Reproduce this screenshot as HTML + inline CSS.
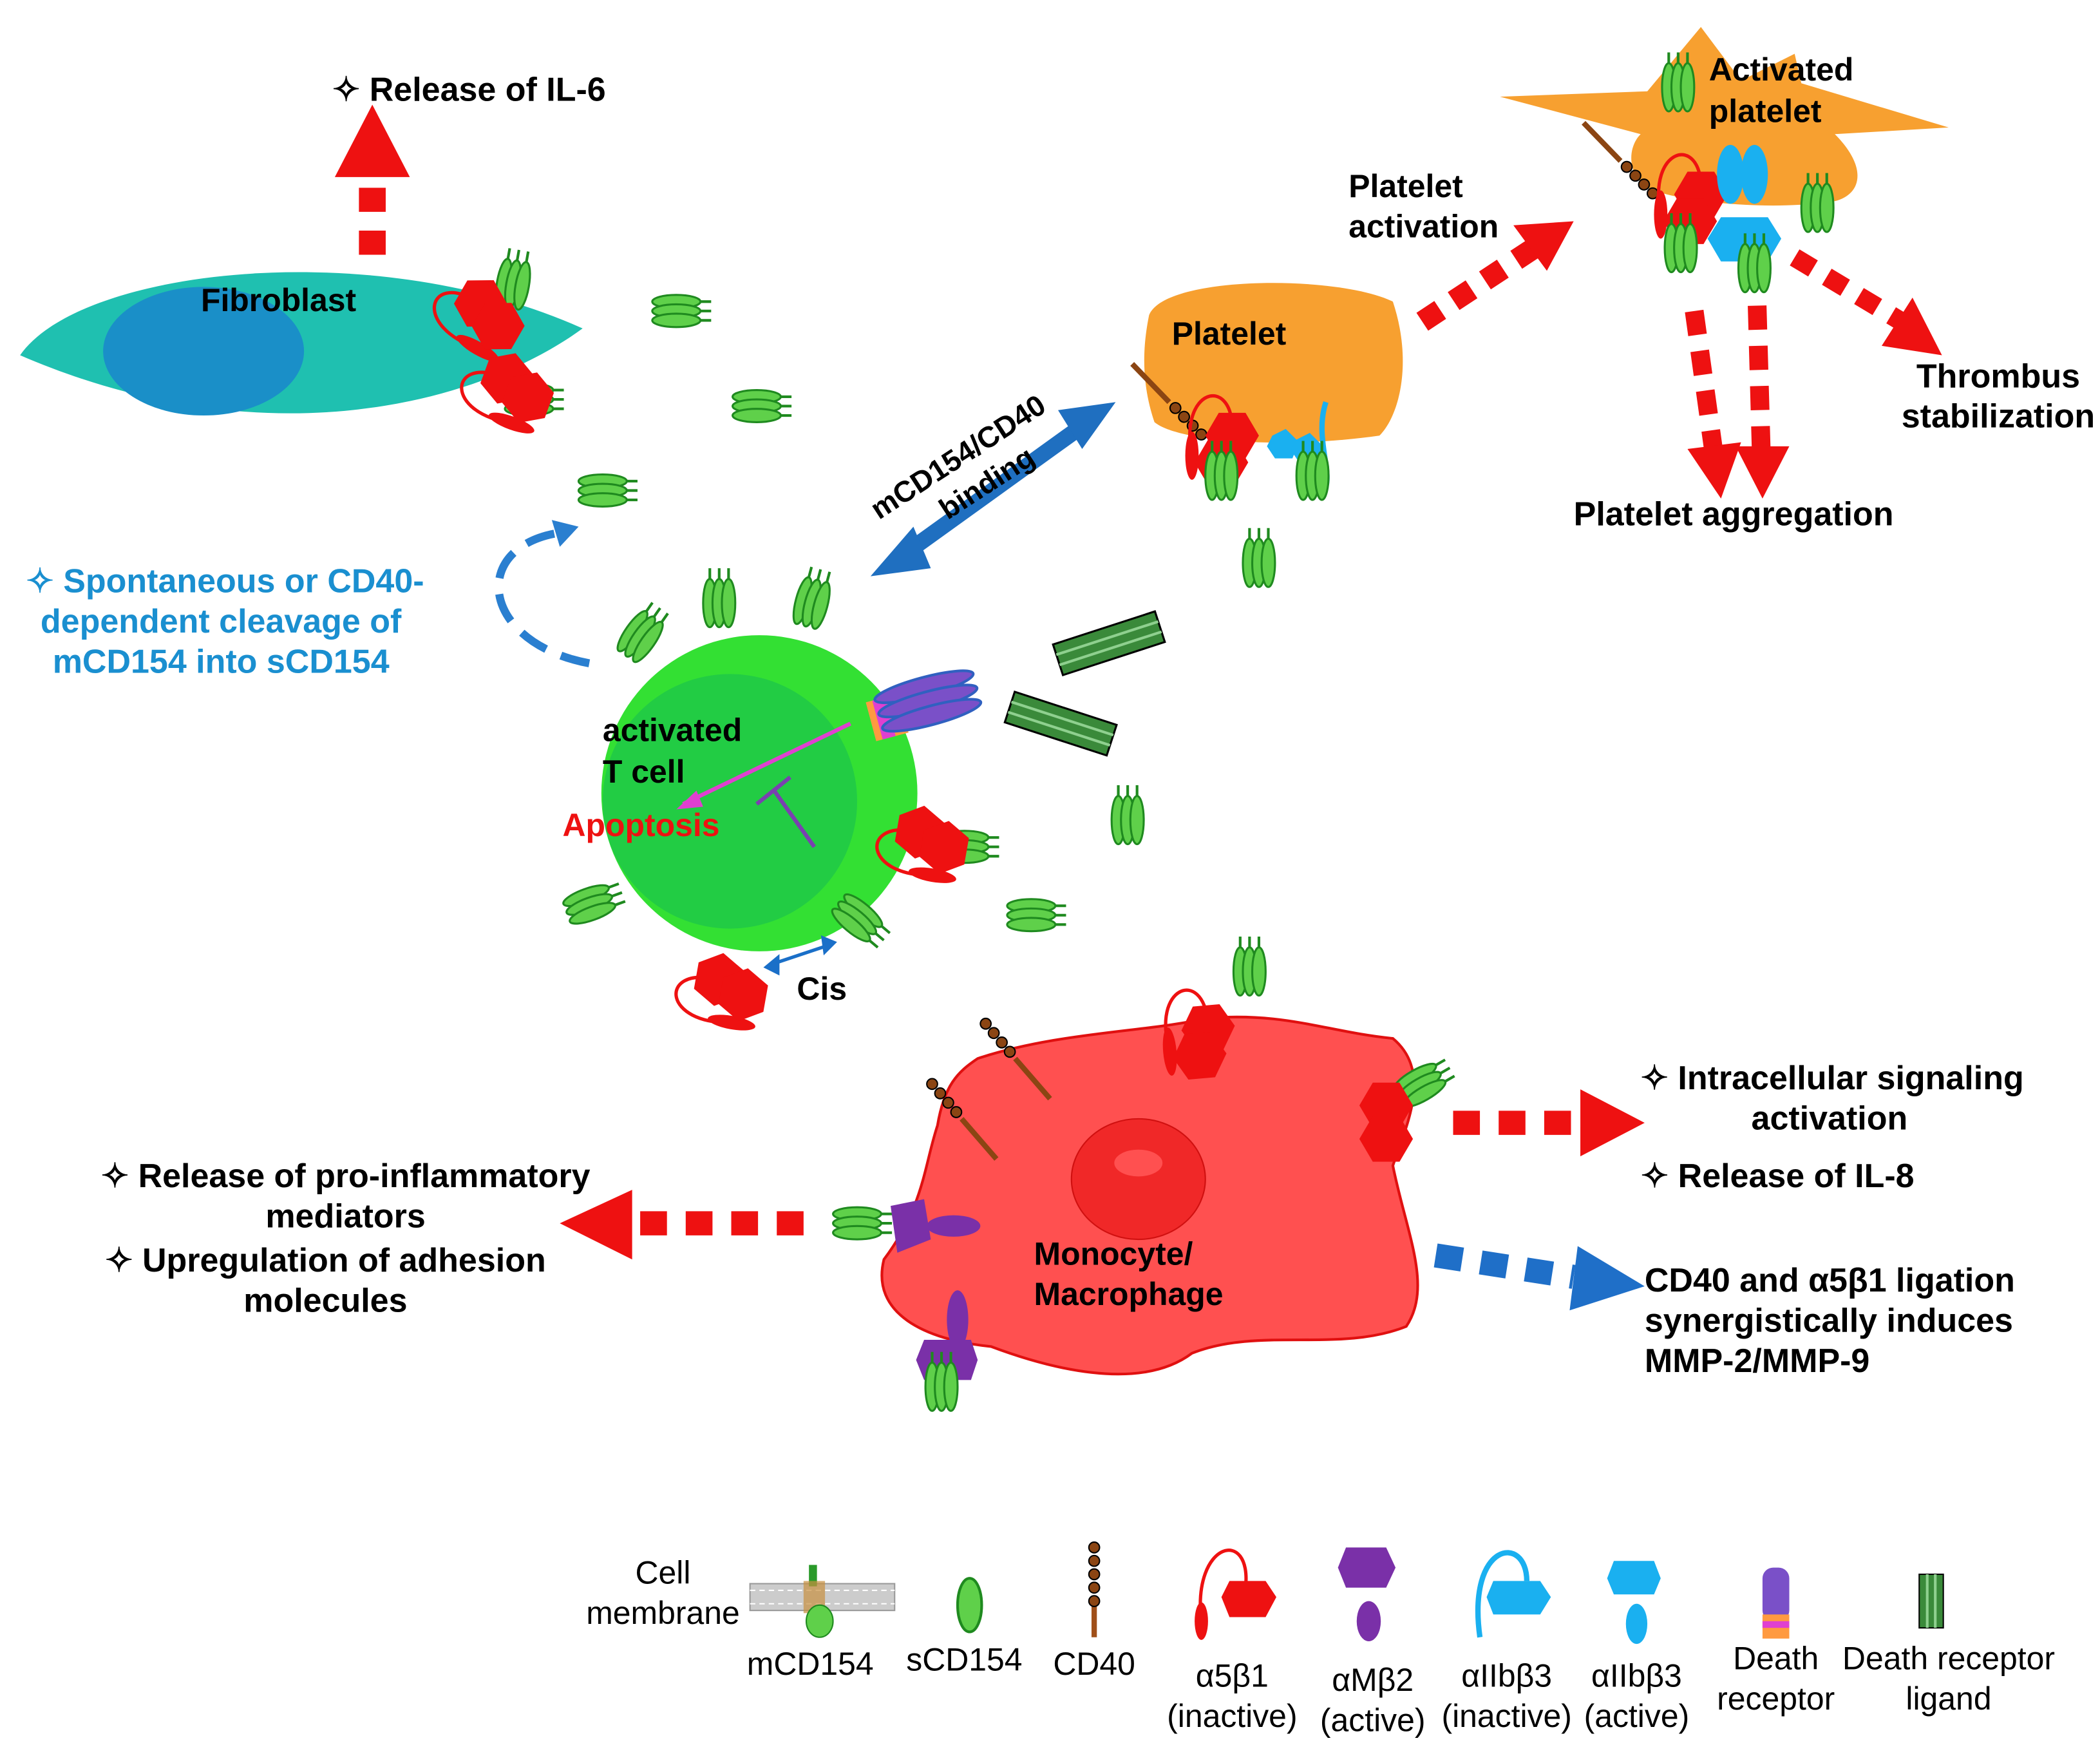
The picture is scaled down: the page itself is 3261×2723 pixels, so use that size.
<!DOCTYPE html>
<html><head><meta charset="utf-8"><style>html,body{margin:0;padding:0;background:#fff}svg{display:block}</style></head>
<body>
<svg xmlns="http://www.w3.org/2000/svg" width="3261" height="2723" viewBox="0 0 1568 1309" font-family="Liberation Sans, sans-serif">
<defs>
<g id="s">
<ellipse cx="0" cy="-7" rx="18" ry="5" fill="#5fd04a" stroke="#1f8a1f" stroke-width="1.5"/>
<ellipse cx="0" cy="0" rx="18" ry="5" fill="#5fd04a" stroke="#1f8a1f" stroke-width="1.5"/>
<ellipse cx="0" cy="7" rx="18" ry="5" fill="#5fd04a" stroke="#1f8a1f" stroke-width="1.5"/>
<path d="M18 -7h8M18 0h8M18 7h8" stroke="#1f8a1f" stroke-width="2"/>
</g>
<g id="hex"><polygon points="-10,-17 10,-17 20,0 10,17 -10,17 -20,0" fill="#ee1111"/></g>
<g id="int">
<path d="M0 40 C -10 -10, 30 -20, 30 20" fill="none" stroke="#ee1111" stroke-width="2.5"/>
<ellipse cx="0" cy="40" rx="5" ry="18" fill="#ee1111"/>
<use href="#hex" x="30" y="25"/><use href="#hex" x="22" y="45"/>
</g>
<g id="cd40">
<path d="M0 0 L26 30" stroke="#8b4513" stroke-width="4"/>
<circle cx="-4" cy="-5" r="4" fill="#8b4513" stroke="#000"/><circle cx="-10" cy="-12" r="4" fill="#8b4513" stroke="#000"/><circle cx="-16" cy="-19" r="4" fill="#8b4513" stroke="#000"/><circle cx="-22" cy="-26" r="4" fill="#8b4513" stroke="#000"/>
</g>
<g id="dl"><rect x="-40" y="-12" width="80" height="24" fill="#3a8a3a" stroke="#000" stroke-width="1.5"/><path d="M-40 -4h80M-40 4h80" stroke="#8fd08f" stroke-width="2"/></g>
</defs>

<!-- Fibroblast -->
<path d="M15 265 C 60 200, 280 175, 435 245 C 360 300, 200 345, 15 265Z" fill="#1fc0b0"/>
<ellipse cx="152" cy="262" rx="75" ry="48" fill="#1a8fc8"/>
<text x="150" y="232" font-size="24" font-weight="bold">Fibroblast</text>
<use href="#s" x="383" y="212" transform="rotate(-80 383 212)"/>
<use href="#int" x="325" y="215" transform="rotate(-60 345 230)"/>
<use href="#s" x="395" y="298"/>
<use href="#int" x="350" y="270" transform="rotate(-70 370 290)"/>

<!-- IL-6 arrow -->
<line x1="278" y1="190" x2="278" y2="135" stroke="#ee1111" stroke-width="20" stroke-dasharray="18 14"/>
<polygon points="250,132 306,132 278,78" fill="#ee1111"/>
<text x="248" y="75" font-size="25" font-weight="bold">✧ Release of IL-6</text>

<use href="#s" x="505" y="232"/><use href="#s" x="565" y="303"/><use href="#s" x="450" y="366"/>

<!-- Blue curved dashed arrow -->
<path d="M440 495 C 360 480, 350 410, 415 398" fill="none" stroke="#2a7fd0" stroke-width="6" stroke-dasharray="22 12"/>
<polygon points="432,393 412,388 418,408" fill="#2a7fd0"/>
<g font-size="25" font-weight="bold" fill="#1a8fd0" text-anchor="middle">
<text x="168" y="442">✧ Spontaneous or CD40-</text>
<text x="165" y="472">dependent cleavage of</text>
<text x="165" y="502">mCD154 into sCD154</text></g>

<!-- T cell -->
<circle cx="567" cy="592" r="118" fill="#33e033"/>
<circle cx="545" cy="598" r="95" fill="#22cc44"/>
<use href="#s" x="537" y="450" transform="rotate(-90 537 450)"/>
<use href="#s" x="606" y="450" transform="rotate(-75 606 450)"/>
<use href="#s" x="478" y="475" transform="rotate(-55 478 475)"/>
<use href="#s" x="440" y="675" transform="rotate(-20 440 675)"/>
<use href="#s" x="640" y="685" transform="rotate(40 640 685)"/>
<use href="#s" x="720" y="632"/>
<use href="#int" x="660" y="610" transform="rotate(-80 680 630)"/>
<use href="#int" x="510" y="720" transform="rotate(-80 530 740)"/>
<g transform="translate(640 500) rotate(-15)">
<rect x="0" y="25" width="25" height="30" fill="#ff9a40"/><rect x="5" y="25" width="10" height="30" fill="#e040d0"/>
<ellipse cx="45" cy="25" rx="38" ry="7" fill="#7a50c8" stroke="#3060c0" stroke-width="2"/>
<ellipse cx="45" cy="36" rx="38" ry="7" fill="#7a50c8" stroke="#3060c0" stroke-width="2"/>
<ellipse cx="45" cy="47" rx="38" ry="7" fill="#7a50c8" stroke="#3060c0" stroke-width="2"/></g>
<line x1="635" y1="540" x2="510" y2="600" stroke="#e040d0" stroke-width="3"/>
<polygon points="505,604 520,590 525,602" fill="#e040d0"/>
<path d="M565 600 L590 580 M578 590 L608 632" stroke="#7a40b0" stroke-width="3"/>
<text x="450" y="553" font-size="24" font-weight="bold">activated</text>
<text x="450" y="584" font-size="24" font-weight="bold">T cell</text>
<text x="420" y="624" font-size="24" font-weight="bold" fill="#ee1111">Apoptosis</text>
<path d="M575 720 L620 705" stroke="#1a6fc8" stroke-width="2.5"/>
<polygon points="570,722 582,712 582,728" fill="#1a6fc8"/><polygon points="625,703 613,698 615,713" fill="#1a6fc8"/>
<text x="595" y="746" font-size="24" font-weight="bold">Cis</text>

<use href="#dl" x="828" y="480" transform="rotate(-18 828 480)"/>
<use href="#dl" x="792" y="540" transform="rotate(18 792 540)"/>
<use href="#s" x="842" y="612" transform="rotate(-90 842 612)"/>
<use href="#s" x="770" y="683"/>
<use href="#s" x="940" y="420" transform="rotate(-90 940 420)"/>

<!-- Blue double arrow -->
<line x1="680" y1="410" x2="805" y2="320" stroke="#1f6fc0" stroke-width="12"/>
<polygon points="650,430 682,393 695,424" fill="#1f6fc0"/>
<polygon points="833,300 790,306 808,335" fill="#1f6fc0"/>
<g font-size="22" font-weight="bold" transform="rotate(-33 715 350)">
<text x="645" y="350">mCD154/CD40</text><text x="688" y="378">binding</text></g>

<!-- Platelet -->
<path d="M858 235 C 870 205, 1000 205, 1040 225 C 1055 270, 1045 310, 1030 325 C 960 335, 880 330, 862 315 C 850 280, 855 250, 858 235Z" fill="#f7a030"/>
<text x="875" y="257" font-size="24" font-weight="bold">Platelet</text>
<use href="#cd40" x="873" y="300" transform="rotate(95 873 300) scale(-1 1) translate(-1746 0)"/>
<use href="#int" x="890" y="300"/>
<use href="#s" x="912" y="355" transform="rotate(-90 912 355)"/>
<g><path d="M990 300 C 980 330, 1000 360, 985 370" stroke="#1ab0f0" stroke-width="4" fill="none"/>
<polygon points="950,325 960,320 970,330 965,342 952,342 946,333" fill="#1ab0f0"/>
<polygon points="968,328 978,323 988,333 983,345 970,345 964,336" fill="#1ab0f0"/></g>
<use href="#s" x="980" y="355" transform="rotate(-90 980 355)"/>

<!-- Platelet activation arrow -->
<line x1="1062" y1="240" x2="1150" y2="182" stroke="#ee1111" stroke-width="16" stroke-dasharray="16 12"/>
<polygon points="1175,165 1130,168 1155,202" fill="#ee1111"/>
<text x="1007" y="147" font-size="24" font-weight="bold">Platelet</text>
<text x="1007" y="177" font-size="24" font-weight="bold">activation</text>

<!-- Activated platelet -->
<path d="M1120 72 L1230 68 L1270 20 L1300 60 L1340 40 L1345 62 L1455 95 L1370 100 C 1395 125, 1390 145, 1370 150 C 1320 158, 1250 150, 1230 140 C 1215 130, 1215 110, 1225 100 Z" fill="#f7a030"/>
<text x="1276" y="60" font-size="24" font-weight="bold">Activated</text>
<text x="1276" y="91" font-size="24" font-weight="bold">platelet</text>
<use href="#s" x="1253" y="65" transform="rotate(-90 1253 65)"/>
<use href="#cd40" x="1210" y="120" transform="rotate(95 1210 120) scale(-1 1) translate(-2420 0)"/>
<use href="#int" x="1240" y="120"/>
<use href="#s" x="1255" y="185" transform="rotate(-90 1255 185)"/>
<use href="#s" x="1357" y="155" transform="rotate(-90 1357 155)"/>
<ellipse cx="1292" cy="130" rx="10" ry="22" fill="#1ab0f0"/><ellipse cx="1310" cy="130" rx="10" ry="22" fill="#1ab0f0"/>
<polygon points="1285,162 1320,162 1330,178 1320,195 1285,195 1275,178" fill="#1ab0f0"/>
<use href="#s" x="1310" y="200" transform="rotate(-90 1310 200)"/>
<line x1="1265" y1="232" x2="1280" y2="340" stroke="#ee1111" stroke-width="14" stroke-dasharray="18 12"/>
<polygon points="1260,335 1300,330 1285,372" fill="#ee1111"/>
<line x1="1312" y1="228" x2="1315" y2="335" stroke="#ee1111" stroke-width="14" stroke-dasharray="18 12"/>
<polygon points="1296,333 1336,333 1316,372" fill="#ee1111"/>
<text x="1175" y="392" font-size="25" font-weight="bold">Platelet aggregation</text>
<line x1="1340" y1="192" x2="1420" y2="240" stroke="#ee1111" stroke-width="14" stroke-dasharray="16 12"/>
<polygon points="1450,265 1405,258 1428,222" fill="#ee1111"/>
<text x="1492" y="289" font-size="25" font-weight="bold" text-anchor="middle">Thrombus</text>
<text x="1492" y="319" font-size="25" font-weight="bold" text-anchor="middle">stabilization</text>

<!-- Macrophage -->
<path d="M730 790 C 790 770, 860 770, 900 760 C 960 755, 990 770, 1040 775 C 1070 800, 1050 840, 1040 870 C 1050 920, 1070 960, 1050 990 C 1000 1010, 940 990, 890 1010 C 850 1040, 780 1020, 740 1005 C 690 1000, 650 980, 660 940 C 690 900, 690 870, 700 840 C 705 810, 715 800, 730 790Z" fill="#ff5050" stroke="#e01010" stroke-width="2"/>
<ellipse cx="850" cy="880" rx="50" ry="45" fill="#f02828" stroke="#d01010"/>
<ellipse cx="850" cy="868" rx="18" ry="10" fill="#ff5050"/>
<text x="772" y="944" font-size="24" font-weight="bold">Monocyte/</text>
<text x="772" y="974" font-size="24" font-weight="bold">Macrophage</text>
<use href="#cd40" x="758" y="790"/>
<use href="#cd40" x="718" y="835"/>
<use href="#int" x="870" y="745" transform="rotate(-5 870 745)"/>
<use href="#s" x="933" y="725" transform="rotate(-90 933 725)"/>
<use href="#s" x="1060" y="810" transform="rotate(-30 1060 810)"/>
<use href="#hex" x="1035" y="825"/><use href="#hex" x="1035" y="850"/>
<use href="#s" x="640" y="913"/>
<polygon points="665,900 690,895 695,925 670,935" fill="#7a30a8"/><ellipse cx="712" cy="915" rx="20" ry="8" fill="#7a30a8"/>
<ellipse cx="715" cy="985" rx="8" ry="22" fill="#7a30a8"/><polygon points="690,1000 725,1000 730,1015 725,1030 690,1030 684,1015" fill="#7a30a8"/>
<use href="#s" x="703" y="1035" transform="rotate(-90 703 1035)"/>

<!-- Macrophage arrows -->
<line x1="1085" y1="838" x2="1180" y2="838" stroke="#ee1111" stroke-width="18" stroke-dasharray="20 14"/>
<polygon points="1180,813 1180,863 1228,838" fill="#ee1111"/>
<g font-size="25" font-weight="bold" text-anchor="middle">
<text x="1368" y="813">✧ Intracellular signaling</text>
<text x="1366" y="843">activation</text></g>
<text x="1225" y="886" font-size="25" font-weight="bold">✧ Release of IL-8</text>
<line x1="600" y1="913" x2="470" y2="913" stroke="#ee1111" stroke-width="18" stroke-dasharray="20 14"/>
<polygon points="472,888 472,940 418,913" fill="#ee1111"/>
<g font-size="25" font-weight="bold" text-anchor="middle">
<text x="258" y="886">✧ Release of pro-inflammatory</text>
<text x="258" y="916">mediators</text>
<text x="243" y="949">✧ Upregulation of adhesion</text>
<text x="243" y="979">molecules</text></g>
<line x1="1072" y1="937" x2="1175" y2="953" stroke="#1f6fc8" stroke-width="18" stroke-dasharray="20 14"/>
<polygon points="1178,930 1172,978 1228,960" fill="#1f6fc8"/>
<g font-size="25" font-weight="bold">
<text x="1228" y="964">CD40 and α5β1 ligation</text>
<text x="1228" y="994">synergistically induces</text>
<text x="1228" y="1024">MMP-2/MMP-9</text></g>

<!-- Legend -->
<g font-size="24" text-anchor="middle">
<text x="495" y="1182">Cell</text><text x="495" y="1212">membrane</text>
<rect x="560" y="1182" width="108" height="20" fill="#ccc" stroke="#999"/>
<path d="M560 1187h108M560 1197h108" stroke="#fff" stroke-dasharray="4 3"/>
<rect x="604" y="1168" width="6" height="16" fill="#2a9a2a"/><rect x="600" y="1180" width="16" height="24" fill="#c89040" opacity="0.7"/>
<ellipse cx="612" cy="1210" rx="10" ry="12" fill="#5fd04a" stroke="#1f8a1f"/>
<text x="605" y="1250">mCD154</text>
<ellipse cx="724" cy="1198" rx="9" ry="20" fill="#5fd04a" stroke="#1f8a1f" stroke-width="2"/>
<text x="720" y="1247">sCD154</text>
<line x1="817" y1="1195" x2="817" y2="1222" stroke="#a0501a" stroke-width="4"/>
<circle cx="817" cy="1155" r="4" fill="#8b4513" stroke="#000"/><circle cx="817" cy="1165" r="4" fill="#8b4513" stroke="#000"/><circle cx="817" cy="1175" r="4" fill="#8b4513" stroke="#000"/><circle cx="817" cy="1185" r="4" fill="#8b4513" stroke="#000"/><circle cx="817" cy="1195" r="4" fill="#8b4513" stroke="#000"/>
<text x="817" y="1250">CD40</text>
<path d="M897 1210 C 890 1150, 935 1140, 930 1185" fill="none" stroke="#ee1111" stroke-width="2.5"/>
<ellipse cx="897" cy="1210" rx="5" ry="14" fill="#ee1111"/>
<polygon points="918,1180 945,1180 953,1192 945,1207 918,1207 912,1192" fill="#ee1111"/>
<text x="920" y="1259">α5β1</text><text x="920" y="1289">(inactive)</text>
<polygon points="1005,1155 1035,1155 1042,1170 1035,1185 1005,1185 999,1170" fill="#7a30a8"/>
<ellipse cx="1022" cy="1210" rx="9" ry="15" fill="#7a30a8"/>
<text x="1025" y="1262">αMβ2</text><text x="1025" y="1292">(active)</text>
<path d="M1105 1222 C 1095 1150, 1140 1145, 1140 1180" fill="none" stroke="#1ab0f0" stroke-width="4"/>
<polygon points="1115,1180 1150,1180 1158,1192 1150,1205 1115,1205 1110,1192" fill="#1ab0f0"/>
<text x="1125" y="1259">αIIbβ3</text><text x="1125" y="1289">(inactive)</text>
<polygon points="1205,1165 1235,1165 1240,1178 1235,1190 1205,1190 1200,1178" fill="#1ab0f0"/>
<ellipse cx="1222" cy="1212" rx="8" ry="15" fill="#1ab0f0"/>
<text x="1222" y="1259">αIIbβ3</text><text x="1222" y="1289">(active)</text>
<rect x="1316" y="1170" width="20" height="40" rx="8" fill="#7a50c8"/><rect x="1316" y="1205" width="20" height="18" fill="#ff9a40"/><rect x="1316" y="1210" width="20" height="5" fill="#e040d0"/>
<text x="1326" y="1246">Death</text><text x="1326" y="1276">receptor</text>
<rect x="1433" y="1175" width="18" height="40" fill="#3a8a3a" stroke="#000"/><path d="M1439 1175v40M1445 1175v40" stroke="#8fd08f" stroke-width="2"/>
<text x="1455" y="1246">Death receptor</text><text x="1455" y="1276">ligand</text>
</g>
</svg>
</body></html>
